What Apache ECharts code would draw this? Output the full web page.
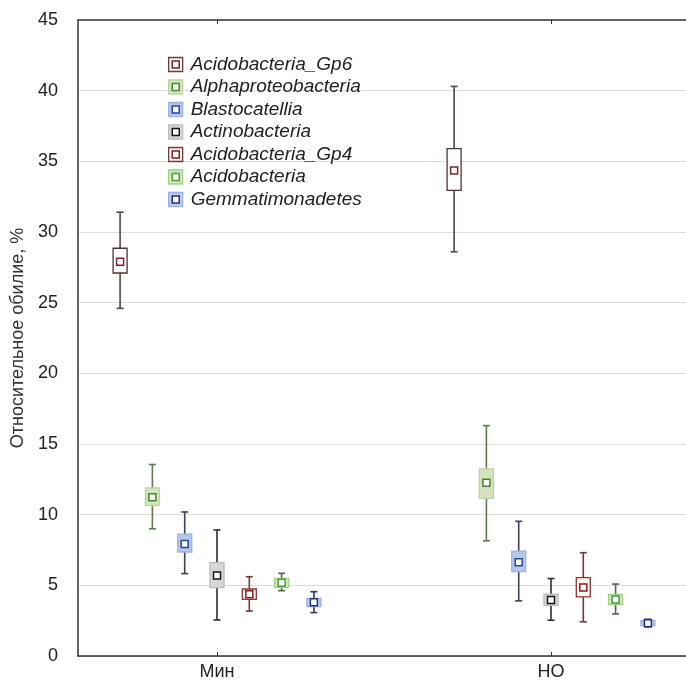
<!DOCTYPE html>
<html>
<head>
<meta charset="utf-8">
<script src="https://cdn.jsdelivr.net/npm/echarts@6/dist/echarts.min.js"></script>
<style>html,body{margin:0;padding:0;background:#fff}#c{width:686px;height:684px}</style>
</head>
<body>
<div id="c"></div>
<script>
// ---- data: each row = [lower whisker, box low, centre marker, box high, upper whisker]
const groups = ['Мин', 'НО'];
const speciesNames = ['Acidobacteria_Gp6', 'Alphaproteobacteria', 'Blastocatellia', 'Actinobacteria', 'Acidobacteria_Gp4', 'Acidobacteria', 'Gemmatimonadetes'];
const gp6    = [[24.6, 27.1, 27.9, 28.85, 31.4], [28.6, 32.95, 34.35, 35.9, 40.3]];
const alpha  = [[9.0, 10.66, 11.23, 11.9, 13.55], [8.15, 11.15, 12.25, 13.24, 16.3]];
const blasto = [[5.83, 7.36, 7.93, 8.63, 10.19], [3.9, 5.98, 6.63, 7.41, 9.53]];
const actino = [[2.55, 4.84, 5.69, 6.6, 8.92], [2.53, 3.58, 3.97, 4.38, 5.48]];
const gp4    = [[3.18, 4.01, 4.37, 4.74, 5.61], [2.42, 4.19, 4.84, 5.54, 7.31]];
const acido  = [[4.62, 4.86, 5.19, 5.49, 5.85], [2.98, 3.63, 4.0, 4.36, 5.09]];
const gemmat = [[3.07, 3.49, 3.8, 4.08, 4.55], [2.07, 2.15, 2.32, 2.5, 2.6]];
const yMin = 0, yMax = 45, yStep = 5;

const seriesValues = [gp6, alpha, blasto, actino, gp4, acido, gemmat];

// ---- styles
const styles = [
  {fill: '#ffffff', border: '#4e3434', marker: '#7a2626', whisker: '#5a4444', legFill: '#fbf3f3'},
  {fill: '#d6e4be', border: '#bdd2a3', marker: '#3b8b29', whisker: '#5e7a52', legFill: '#d6e4be'},
  {fill: '#b5c7ea', border: '#9fb4dc', marker: '#28459a', whisker: '#3c4258', legFill: '#b5c7ea'},
  {fill: '#d8d8d8', border: '#bbbbbb', marker: '#161616', whisker: '#2e2e2e', legFill: '#d8d8d8'},
  {fill: '#fdf4f4', border: '#8a3636', marker: '#8a1c1c', whisker: '#6e3c3c', legFill: '#fbf0f0'},
  {fill: '#d0e7c0', border: '#a3cf8c', marker: '#46a02e', whisker: '#4a6a45', legFill: '#d0e7c0'},
  {fill: '#bccbef', border: '#9cb0e4', marker: '#202f8a', whisker: '#2e3a70', legFill: '#bccbef'}
];
const SLOT_PX = 32.3, BOX_W = 14, CAP_W = 7, MARK = 7;
const FONT = "'Liberation Sans', Arial, sans-serif";

function renderBox(params, api) {
  const g = api.value(0);
  const st = styles[params.seriesIndex];
  const px = api.coord([g, 0])[0] + (params.seriesIndex - 3) * SLOT_PX;
  const y = i => api.coord([g, api.value(i)])[1];
  const yLo = y(1), yQ1 = y(2), yMid = y(3), yQ3 = y(4), yHi = y(5);
  const ws = {stroke: st.whisker, lineWidth: 1.6};
  return {type: 'group', children: [
    {type: 'line', shape: {x1: px, y1: yHi, x2: px, y2: yLo}, style: ws},
    {type: 'line', shape: {x1: px - CAP_W / 2, y1: yHi, x2: px + CAP_W / 2, y2: yHi}, style: ws},
    {type: 'line', shape: {x1: px - CAP_W / 2, y1: yLo, x2: px + CAP_W / 2, y2: yLo}, style: ws},
    {type: 'rect', shape: {x: px - BOX_W / 2, y: yQ3, width: BOX_W, height: yQ1 - yQ3}, style: {fill: st.fill, stroke: st.border, lineWidth: 1.3}},
    {type: 'rect', shape: {x: px - MARK / 2, y: yMid - MARK / 2, width: MARK, height: MARK}, style: {fill: '#ffffff', stroke: st.marker, lineWidth: 1.5}}
  ]};
}

const series = seriesValues.map((rows, si) => ({
  type: 'custom',
  name: speciesNames[si],
  renderItem: renderBox,
  encode: {x: 0, y: [1, 2, 3, 4, 5]},
  data: rows.map((r, gi) => [gi + 1].concat(r)),
  itemStyle: {color: styles[si].fill}
}));

const xMin = 1 - 139 / 334, xMax = 2 + 135 / 334;
const groupVals = groups.map((_, i) => i + 1);

const option = {
  animation: false,
  grid: {left: 78, top: 20, right: 0, bottom: 28, containLabel: false},
  xAxis: [
    {type: 'value', position: 'bottom', min: xMin, max: xMax,
     axisLine: {show: true, lineStyle: {color: '#333', width: 1.5}},
     axisTick: {show: true, inside: true, length: 4, customValues: groupVals, lineStyle: {color: '#333'}},
     axisLabel: {show: true, customValues: groupVals, formatter: v => groups[Math.round(v) - 1] || '', fontSize: 18, color: '#222', fontFamily: FONT, margin: 7},
     splitLine: {show: false}},
    {type: 'value', position: 'top', min: xMin, max: xMax,
     axisLine: {show: true, onZero: false, lineStyle: {color: '#333', width: 1.5}},
     axisTick: {show: true, inside: true, length: 4, customValues: groupVals, lineStyle: {color: '#333'}},
     axisLabel: {show: false},
     splitLine: {show: false}}
  ],
  yAxis: {
    type: 'value', min: yMin, max: yMax, interval: yStep,
    name: 'Относительное обилие, %', nameLocation: 'middle', nameGap: 50,
    nameTextStyle: {fontSize: 18, color: '#333', fontFamily: FONT},
    axisLine: {show: true, lineStyle: {color: '#333', width: 1.5}},
    axisTick: {show: false},
    axisLabel: {fontSize: 18, color: '#222', fontFamily: FONT, margin: 20},
    splitLine: {show: true, lineStyle: {color: '#dedede', width: 1}}
  },
  legend: [
    {orient: 'vertical', left: 163, top: 50, itemWidth: 14, itemHeight: 14, itemGap: 3.5,
     selectedMode: false,
     textStyle: {fontSize: 19, fontStyle: 'italic', color: '#222', fontFamily: FONT, padding: [0, 0, 0, 3]},
     data: speciesNames.map((n, i) => ({name: n, icon: 'rect', itemStyle: {color: styles[i].legFill, borderColor: i === 0 || i === 4 ? styles[i].whisker : styles[i].border, borderWidth: 1.3}}))},
    {orient: 'vertical', left: 166.5, top: 50, itemWidth: 7, itemHeight: 14, itemGap: 3.5,
     selectedMode: false,
     textStyle: {fontSize: 19, fontStyle: 'italic', color: 'rgba(0,0,0,0)', fontFamily: FONT, padding: [0, 0, 0, 3]},
     data: speciesNames.map((n, i) => ({name: n, icon: 'path://M0,3.5H7V10.5H0Z', itemStyle: {color: '#ffffff', borderColor: styles[i].marker, borderWidth: 1.5}}))}
  ],
  series: series
};

const chart = echarts.init(document.getElementById('c'), null, {renderer: 'canvas'});
chart.setOption(option);
</script>
</body>
</html>
